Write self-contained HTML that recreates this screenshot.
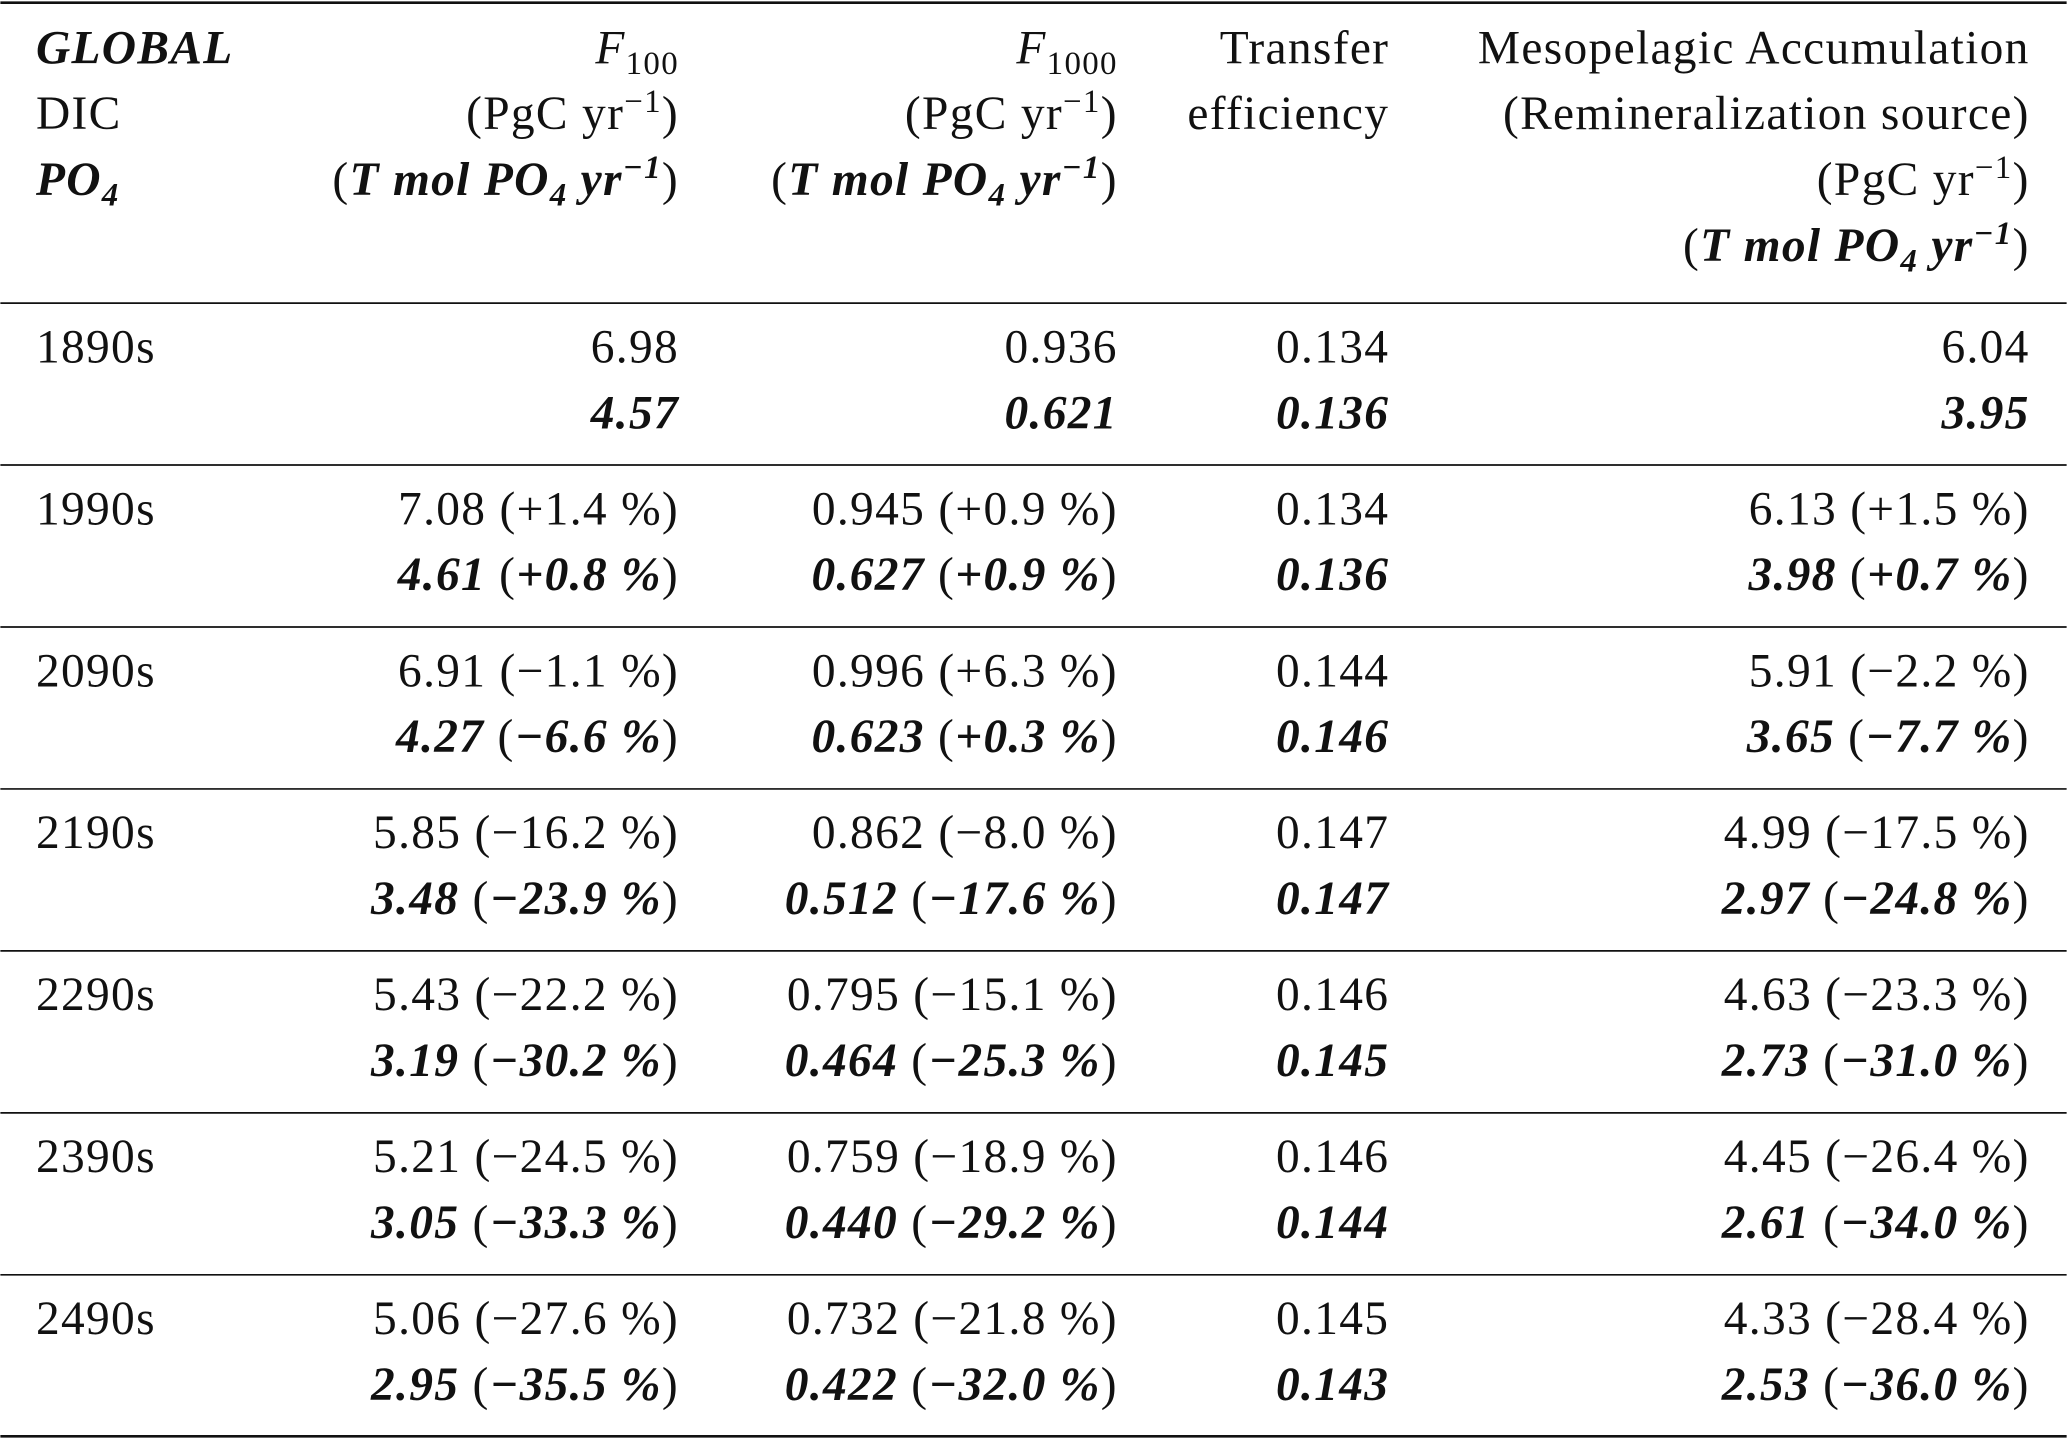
<!DOCTYPE html>
<html><head><meta charset="utf-8"><style>
html,body{margin:0;padding:0;background:#fff;}
svg{display:block;}
text{font-family:"Liberation Serif","DejaVu Serif",serif;font-size:36px;letter-spacing:1px;fill:#111;}
.bi{font-weight:bold;font-style:italic;}
.it{font-style:italic;}
</style></head><body>
<svg id="tbl" width="2067" height="1439" viewBox="0 0 1568 1092" xmlns="http://www.w3.org/2000/svg">
<g>
<line x1="0" x2="1568" y1="2" y2="2" stroke="#111" stroke-width="2"/>
<line x1="0" x2="1568" y1="230" y2="230" stroke="#111" stroke-width="1.3"/>
<line x1="0" x2="1568" y1="1090" y2="1090" stroke="#111" stroke-width="2"/>
</g>
<g>
<text x="27" y="48" class="bi">GLOBAL</text>
<text x="27" y="98">DIC</text>
<text x="27" y="148" class="bi">PO<tspan dy="8" font-size="25">4</tspan></text>
<text x="515" y="48" text-anchor="end"><tspan class="it">F</tspan><tspan dy="8" font-size="25">100</tspan></text>
<text x="515" y="98" text-anchor="end">(PgC yr<tspan dy="-13" font-size="25">−1</tspan><tspan dy="13">)</tspan></text>
<text x="515" y="148" text-anchor="end">(<tspan class="bi">T mol PO</tspan><tspan class="bi" dy="8" font-size="25">4</tspan><tspan class="bi" dy="-8"> yr</tspan><tspan class="bi" dy="-13" font-size="25">−1</tspan><tspan dy="13">)</tspan></text>
<text x="848" y="48" text-anchor="end"><tspan class="it">F</tspan><tspan dy="8" font-size="25">1000</tspan></text>
<text x="848" y="98" text-anchor="end">(PgC yr<tspan dy="-13" font-size="25">−1</tspan><tspan dy="13">)</tspan></text>
<text x="848" y="148" text-anchor="end">(<tspan class="bi">T mol PO</tspan><tspan class="bi" dy="8" font-size="25">4</tspan><tspan class="bi" dy="-8"> yr</tspan><tspan class="bi" dy="-13" font-size="25">−1</tspan><tspan dy="13">)</tspan></text>
<text x="1054" y="48" text-anchor="end">Transfer</text>
<text x="1054" y="98" text-anchor="end">efficiency</text>
<text x="1540" y="48" text-anchor="end">Mesopelagic Accumulation</text>
<text x="1540" y="98" text-anchor="end">(Remineralization source)</text>
<text x="1540" y="148" text-anchor="end">(PgC yr<tspan dy="-13" font-size="25">−1</tspan><tspan dy="13">)</tspan></text>
<text x="1540" y="198" text-anchor="end">(<tspan class="bi">T mol PO</tspan><tspan class="bi" dy="8" font-size="25">4</tspan><tspan class="bi" dy="-8"> yr</tspan><tspan class="bi" dy="-13" font-size="25">−1</tspan><tspan dy="13">)</tspan></text>
</g>
<g id="body"></g>
</svg>
<script>
const decades = ["1890s","1990s","2090s","2190s","2290s","2390s","2490s"];
const f100Dic = [["6.98",""],["7.08","+1.4"],["6.91","−1.1"],["5.85","−16.2"],["5.43","−22.2"],["5.21","−24.5"],["5.06","−27.6"]];
const f100Po4 = [["4.57",""],["4.61","+0.8"],["4.27","−6.6"],["3.48","−23.9"],["3.19","−30.2"],["3.05","−33.3"],["2.95","−35.5"]];
const f1000Dic = [["0.936",""],["0.945","+0.9"],["0.996","+6.3"],["0.862","−8.0"],["0.795","−15.1"],["0.759","−18.9"],["0.732","−21.8"]];
const f1000Po4 = [["0.621",""],["0.627","+0.9"],["0.623","+0.3"],["0.512","−17.6"],["0.464","−25.3"],["0.440","−29.2"],["0.422","−32.0"]];
const teDic = ["0.134","0.134","0.144","0.147","0.146","0.146","0.145"];
const tePo4 = ["0.136","0.136","0.146","0.147","0.145","0.144","0.143"];
const mesoDic = [["6.04",""],["6.13","+1.5"],["5.91","−2.2"],["4.99","−17.5"],["4.63","−23.3"],["4.45","−26.4"],["4.33","−28.4"]];
const mesoPo4 = [["3.95",""],["3.98","+0.7"],["3.65","−7.7"],["2.97","−24.8"],["2.73","−31.0"],["2.61","−34.0"],["2.53","−36.0"]];

const NS="http://www.w3.org/2000/svg";
const body=document.getElementById('body');
const rowTop=i=>230+i*122.9;
function txt(x,y,anchor,html,name){
  const t=document.createElementNS(NS,'text');
  t.setAttribute('x',x);t.setAttribute('y',y);
  if(anchor)t.setAttribute('text-anchor',anchor);
  t.innerHTML=html;
  
  
  body.appendChild(t);
}
function cell(v,bold){
  if(bold){
    return '<tspan class="bi">'+v[0]+'</tspan>'+(v[1]?' (<tspan class="bi">'+v[1]+' %</tspan>)':'');
  }
  return v[0]+(v[1]?' ('+v[1]+' %)':'');
}
decades.forEach((d,i)=>{
  const y=rowTop(i);
  if(i>0){
    const l=document.createElementNS(NS,'line');
    l.setAttribute('x1',0);l.setAttribute('x2',1568);l.setAttribute('y1',y);l.setAttribute('y2',y);
    l.setAttribute('stroke','#111');l.setAttribute('stroke-width','1.3');
    
    
    body.appendChild(l);
  }
  const y1=y+45,y2=y+95;
  txt(27,y1,null,d,'decade-label');
  txt(515,y1,'end',cell(f100Dic[i],false),'f100-dic-value');
  txt(515,y2,'end',cell(f100Po4[i],true),'f100-po4-value');
  txt(848,y1,'end',cell(f1000Dic[i],false),'f1000-dic-value');
  txt(848,y2,'end',cell(f1000Po4[i],true),'f1000-po4-value');
  txt(1054,y1,'end',teDic[i],'transfer-efficiency-dic');
  txt(1054,y2,'end','<tspan class="bi">'+tePo4[i]+'</tspan>','transfer-efficiency-po4');
  txt(1540,y1,'end',cell(mesoDic[i],false),'meso-dic-value');
  txt(1540,y2,'end',cell(mesoPo4[i],true),'meso-po4-value');
});
</script>
</body></html>
